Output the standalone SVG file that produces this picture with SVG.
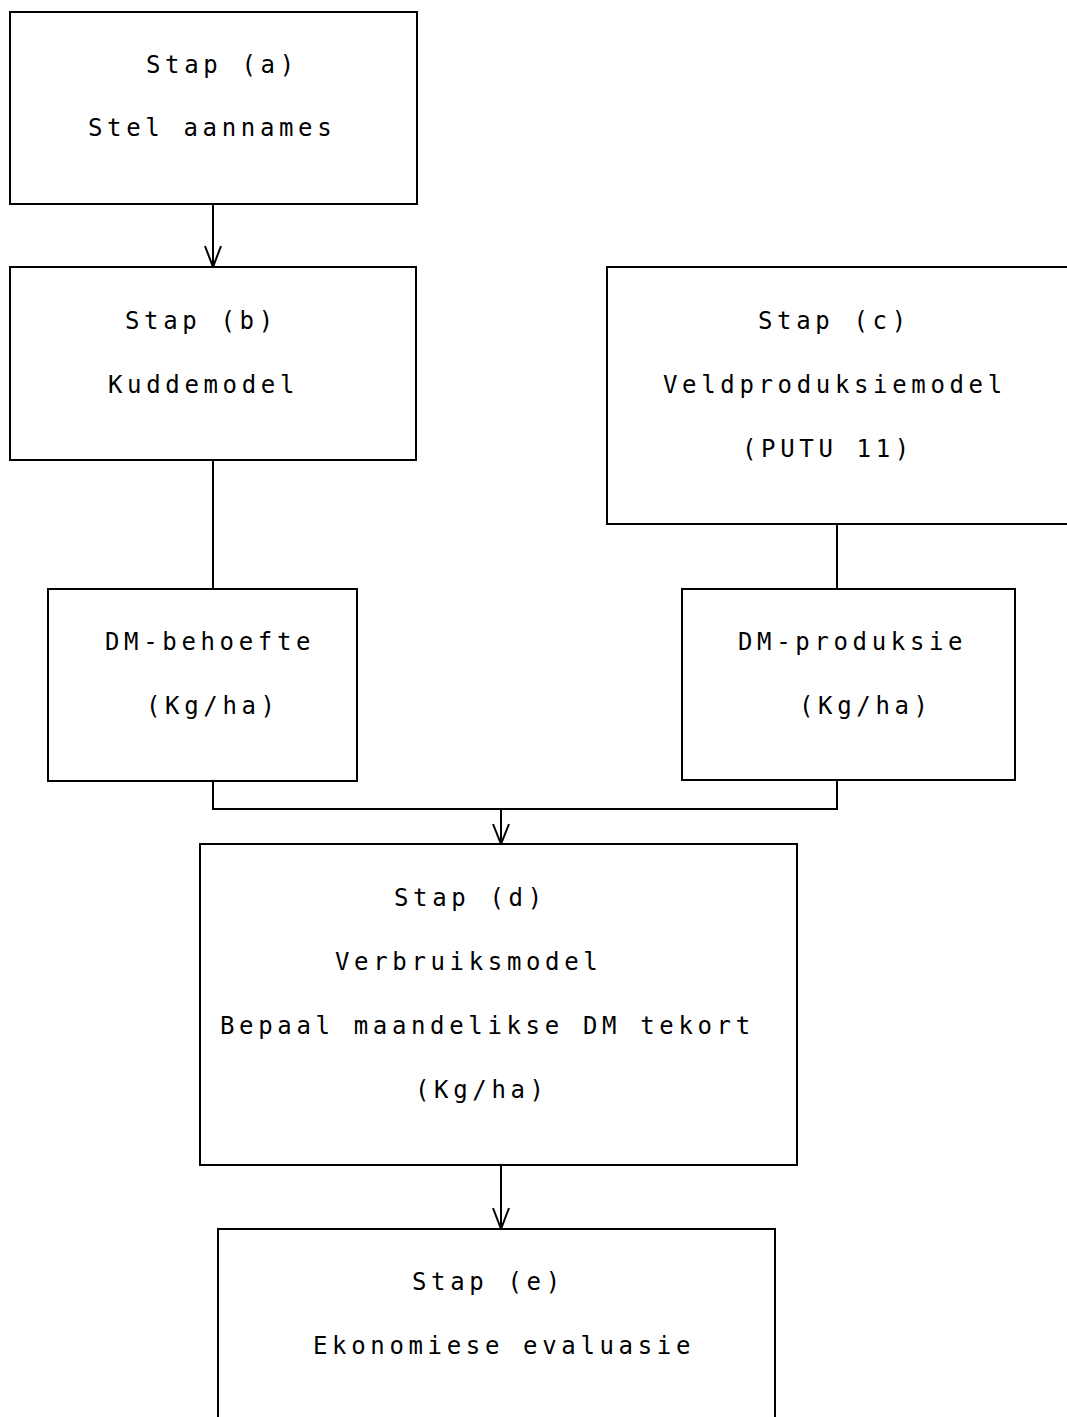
<svg xmlns="http://www.w3.org/2000/svg" width="1067" height="1417" viewBox="0 0 1067 1417">
<style>
rect.box{fill:#fff;stroke:#000;stroke-width:2}
text{font-family:"DejaVu Sans Mono","Liberation Mono",monospace;font-size:24px;letter-spacing:4.65px;fill:#000}
.c{fill:none;stroke:#000;stroke-width:2}
</style>
<rect width="1067" height="1417" fill="#fff"/>
<g id="connectors">
<line class="c" x1="213" y1="204" x2="213" y2="267"/>
<path class="c" d="M205,246 L213,267 L221,246"/>
<line class="c" x1="213" y1="460" x2="213" y2="589"/>
<line class="c" x1="837" y1="524" x2="837" y2="589"/>
<polyline class="c" points="213,781 213,809 837,809 837,781"/>
<line class="c" x1="501" y1="809" x2="501" y2="844"/>
<path class="c" d="M493,824 L501,844 L509,824"/>
<line class="c" x1="501" y1="1165" x2="501" y2="1229"/>
<path class="c" d="M493,1208 L501,1229 L509,1208"/>
</g>
<g id="stap-a">
<rect class="box" x="10" y="12" width="407" height="192"/>
<text x="146" y="73">Stap (a)</text>
<text x="88" y="136">Stel aannames</text>
</g>
<g id="stap-b">
<rect class="box" x="10" y="267" width="406" height="193"/>
<text x="125" y="329">Stap (b)</text>
<text x="108" y="393">Kuddemodel</text>
</g>
<g id="stap-c">
<rect class="box" x="607" y="267" width="470" height="257"/>
<text x="758" y="329">Stap (c)</text>
<text x="663" y="393">Veldproduksiemodel</text>
<text x="742" y="457">(PUTU 11)</text>
</g>
<g id="dm-behoefte">
<rect class="box" x="48" y="589" width="309" height="192"/>
<text x="105" y="650">DM-behoefte</text>
<text x="146" y="714">(Kg/ha)</text>
</g>
<g id="dm-produksie">
<rect class="box" x="682" y="589" width="333" height="191"/>
<text x="738" y="650">DM-produksie</text>
<text x="799" y="714">(Kg/ha)</text>
</g>
<g id="stap-d">
<rect class="box" x="200" y="844" width="597" height="321"/>
<text x="394" y="906">Stap (d)</text>
<text x="335" y="970">Verbruiksmodel</text>
<text x="220" y="1034">Bepaal maandelikse DM tekort</text>
<text x="415" y="1098">(Kg/ha)</text>
</g>
<g id="stap-e">
<rect class="box" x="218" y="1229" width="557" height="200"/>
<text x="412" y="1290">Stap (e)</text>
<text x="313" y="1354">Ekonomiese evaluasie</text>
</g>
</svg>
